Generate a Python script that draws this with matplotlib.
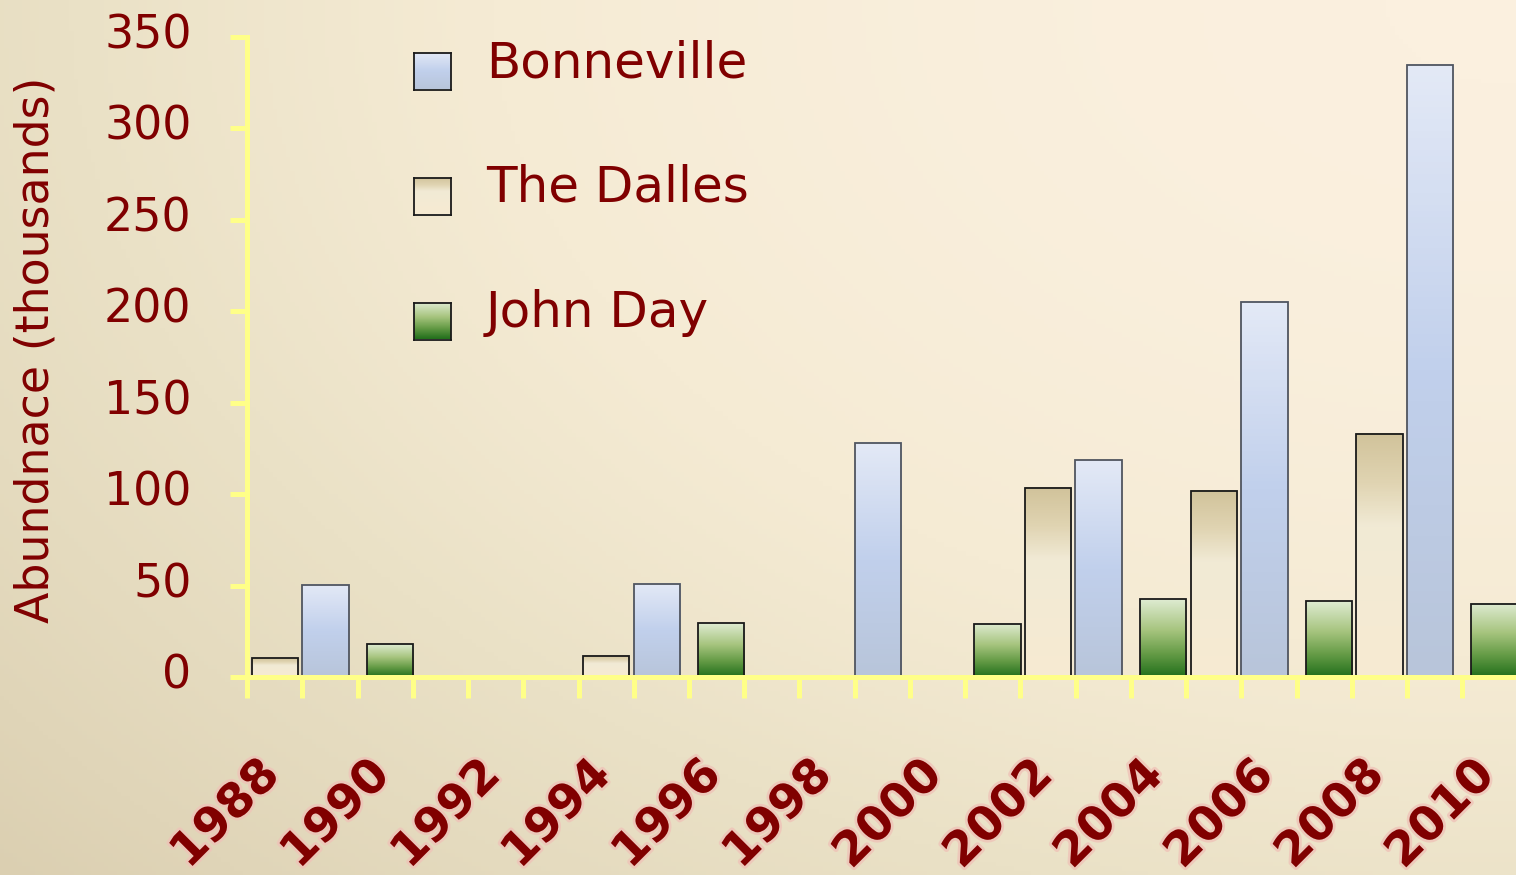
import numpy as np
import matplotlib
matplotlib.use('Agg')
import matplotlib.pyplot as plt
import matplotlib.patheffects as pe
import matplotlib.transforms as mtransforms
from matplotlib.colors import LinearSegmentedColormap


years = list(range(1988, 2011))
tick_years = [1988, 1990, 1992, 1994, 1996, 1998, 2000, 2002, 2004, 2006, 2008, 2010]

# abundance in thousands
bonneville_years = [1989, 1995, 1999, 2003, 2006, 2009]
bonneville_vals = [50.5, 51, 128, 118.5, 205, 334.5]
dalles_years = [1988, 1994, 2002, 2005, 2008]
dalles_vals = [10.3, 11.5, 103.5, 102, 133]
johnday_years = [1990, 1996, 2001, 2004, 2007, 2010]
johnday_vals = [18, 29.5, 29, 42.5, 41.5, 40]

dark_red = '#800000'
axis_yellow = '#FFFF88'

cmaps = {
    'Bonneville': LinearSegmentedColormap.from_list(
        'bon', [(0, '#B8C5DA'), (0.5, '#C1D0EC'), (1, '#E3E9F6')]),
    'The Dalles': LinearSegmentedColormap.from_list(
        'dal', [(0, '#F7EBD2'), (0.62, '#F1EAD5'), (0.8, '#E0D4B2'), (1, '#D1C39B')]),
    'John Day': LinearSegmentedColormap.from_list(
        'jd', [(0, '#23701C'), (0.3, '#669C47'), (0.6, '#A6C47E'), (1, '#DEEBD1')]),
}
edges = {'Bonneville': '#50555f', 'The Dalles': '#1a1a1a', 'John Day': '#1a1a1a'}
# clustered bars that almost fully overlap
offsets = {'Bonneville': -0.083, 'The Dalles': 0.0, 'John Day': 0.083}

fig = plt.figure(figsize=(15.16, 8.75), dpi=100)

# background gradient, light at top right, darker towards bottom left
bg = fig.add_axes([0, 0, 1, 1], zorder=-5)
yy, xx = np.mgrid[0:1:200j, 0:1:350j]
r = np.sqrt((1 - xx) ** 2 + (yy * 0.9) ** 2)
t = np.clip((r / 1.35) ** 2, 0, 1)
bg_cmap = LinearSegmentedColormap.from_list(
    'bg', [(0, '#FBF0DF'), (0.25, '#F5EBD4'), (0.5, '#EAE1C6'), (1, '#DBCFB1')])
bg.imshow(t, cmap=bg_cmap, aspect='auto', extent=[0, 1, 0, 1], origin='upper',
          vmin=0, vmax=1)
bg.axis('off')

ax = fig.add_axes([0.163, 0.226, 0.838, 0.732])
ax.patch.set_alpha(0)

bar_w = 0.84
for name, yrs, vals in [('Bonneville', bonneville_years, bonneville_vals),
                        ('The Dalles', dalles_years, dalles_vals),
                        ('John Day', johnday_years, johnday_vals)]:
    xs = [years.index(y) + 0.5 + offsets[name] for y in yrs]
    bars = ax.bar(xs, vals, width=bar_w, facecolor='none',
                  edgecolor=edges[name], linewidth=1.3, zorder=3)
    grad = np.linspace(1, 0, 100).reshape(-1, 1)
    for b in bars:
        x0, h = b.get_x(), b.get_height()
        ax.imshow(grad, cmap=cmaps[name], aspect='auto', vmin=0, vmax=1,
                  extent=[x0, x0 + b.get_width(), 0, h], zorder=2)

ax.set_xlim(0, len(years))
ax.set_ylim(0, 350)

for s in ['top', 'right']:
    ax.spines[s].set_visible(False)
for s in ['left', 'bottom']:
    ax.spines[s].set_color(axis_yellow)
    ax.spines[s].set_linewidth(3.6)
    ax.spines[s].set_zorder(4)

ax.set_yticks(np.arange(0, 351, 50))
ax.tick_params(axis='y', length=12, width=3.6, color=axis_yellow,
               labelsize=33, labelcolor=dark_red, pad=28)
up = mtransforms.ScaledTranslation(0, 6 / 100, fig.dpi_scale_trans)
for lab in ax.get_yticklabels():
    lab.set_transform(lab.get_transform() + up)

ax.set_xticks(np.arange(0, len(years) + 1))
ax.set_xticklabels([])
ax.tick_params(axis='x', which='major', length=15, width=3.6, color=axis_yellow)
ax.set_xticks([years.index(y) + 0.5 for y in tick_years], minor=True)
ax.set_xticklabels([str(y) for y in tick_years], minor=True)
ax.tick_params(axis='x', which='minor', length=0, pad=54)
shift = mtransforms.ScaledTranslation(-18 / 100, 0, fig.dpi_scale_trans)
for lab in ax.get_xticklabels(minor=True):
    lab.set_rotation(45)
    lab.set_rotation_mode('anchor')
    lab.set_ha('right')
    lab.set_va('top')
    lab.set_fontsize(34)
    lab.set_fontweight('bold')
    lab.set_color(dark_red)
    lab.set_path_effects([pe.Stroke(linewidth=4, foreground='#EFC3B8', alpha=0.8),
                          pe.Normal()])
    lab.set_transform(lab.get_transform() + shift)

fig.text(0.024, 0.6, 'Abundnace (thousands)', rotation=90, fontsize=33,
         color=dark_red, ha='center', va='center')

# legend with gradient swatches
legend_names = ['Bonneville', 'The Dalles', 'John Day']
sw = 37 / 1516
for i, name in enumerate(legend_names):
    yc = 1 - (71 + 125 * i) / 875
    sax = fig.add_axes([414 / 1516, yc - 37 / 875 / 2, sw, 37 / 875])
    sax.imshow(np.linspace(1, 0, 50).reshape(-1, 1), cmap=cmaps[name],
               aspect='auto', vmin=0, vmax=1)
    sax.set_xticks([])
    sax.set_yticks([])
    for sp in sax.spines.values():
        sp.set_color('#1a1a1a')
        sp.set_linewidth(1.3)
    fig.text(486 / 1516, yc + 8 / 875, name, fontsize=36, color=dark_red,
             ha='left', va='center')

fig.savefig('out.png', dpi=100)
